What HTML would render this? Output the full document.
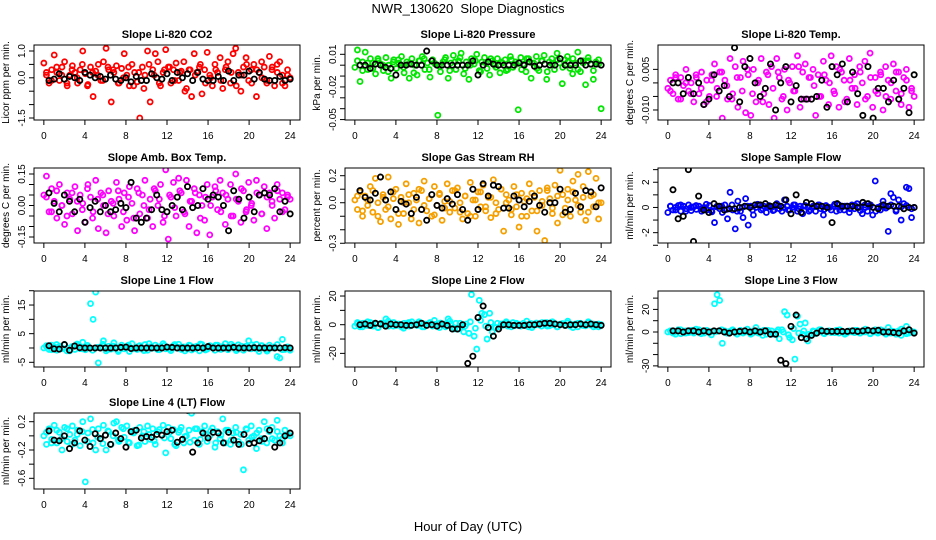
<!DOCTYPE html>
<html><head><meta charset="utf-8"><title>NWR_130620 Slope Diagnostics</title>
<style>
html,body{margin:0;padding:0;background:#fff;}
svg{display:block;font-family:"Liberation Sans",sans-serif;}
</style></head>
<body>
<svg id="chart" width="936" height="540" viewBox="0 0 936 540">
<rect x="0" y="0" width="936" height="540" fill="#fff"/>
<text x="468" y="13" font-size="13" text-anchor="middle">NWR_130620&#160; Slope Diagnostics</text>
<text x="468" y="531" font-size="13" text-anchor="middle">Hour of Day (UTC)</text>
</svg>
<script>
const hourTicks = [0,4,8,12,16,20,24];

const co2Col = [0.55,0.1,-0.2,0.3,0.85,0.2,-0.1,0.4,0.6,-0.3,0.1,0.45,0.2,-0.2,0.3,1.0,0.15,-0.25,0.4,-0.7,0.25,0.5,-0.1,0.6,1.1,0.3,-0.9,0.2,0.45,-0.2,0.35,0.9,0.1,-0.3,0.5,0.2,-0.15,-1.5,0.4,0.1,1.0,-0.9,0.3,0.9,0.6,-0.3,0.2,1.05,0.4,-0.2,0.3,0.55,-0.1,0.25,0.6,-0.4,0.3,-0.7,0.9,0.2,0.4,-0.6,0.3,0.95,0.1,-0.3,0.5,0.2,0.75,-0.4,0.3,0.6,-0.2,0.9,1.1,0.2,-0.5,0.4,0.75,-0.1,0.3,0.5,-0.7,0.2,0.6,0.4,-0.2,0.8,0.3,-0.3,0.5,0.6,0.1,-0.3,0.3,0.0];
const co2Col2 = [0.2,-0.1,0.4,0.1,-0.2,0.3,0.0,0.5,-0.3,0.2,0.1,-0.1,0.4,0.3,-0.2,0.0,0.4,-0.3,0.2,-0.4,0.5,0.1,-0.2,0.3,0.4,-0.1,0.2,-0.5,0.3,0.1,0.5,-0.2,0.0,0.3,-0.1,0.4,0.2,-0.3,0.1,0.5,-0.2,0.3,0.0,-0.1,0.4,0.2,-0.2,0.1];
const co2Blk = [-0.1,-0.05,0.15,-0.05,0.05,0.0,-0.1,0.2,0.1,0.0,0.05,-0.05,0.1,-0.05,-0.1,0.0,-0.15,0.05,-0.1,-0.1,0.15,0.0,-0.05,0.15,-0.1,0.2,0.0,0.15,-0.1,0.2,-0.05,-0.1,-0.1,0.05,-0.1,0.25,-0.1,0.1,0.1,0.25,-0.05,0.2,-0.05,-0.1,-0.1,0.05,-0.1,-0.05];

const presCol = [-0.002,0.014,-0.015,0.003,0.012,-0.004,0.006,0.002,-0.008,0.004,0.001,-0.005,0.007,0.000,-0.012,0.005,-0.003,0.002,0.008,-0.007,0.003,-0.012,0.006,0.000,-0.009,0.004,0.008,-0.004,0.002,-0.011,0.005,0.001,-0.046,-0.006,0.003,0.007,-0.012,0.002,0.009,-0.004,0.004,0.011,-0.008,0.003,-0.013,0.006,0.001,0.010,-0.005,0.003,0.007,-0.003,-0.009,0.004,0.000,0.006,-0.007,0.002,0.005,-0.004,0.008,-0.002,0.003,-0.041,0.007,0.001,-0.006,0.006,-0.012,0.002,0.008,-0.005,0.004,0.009,-0.013,0.003,0.006,-0.004,0.011,0.002,-0.017,0.005,0.008,-0.003,-0.008,0.002,0.012,-0.006,0.004,-0.018,0.007,0.001,-0.013,0.003,0.005,-0.040];
const presCol2 = [0.004,-0.005,0.002,-0.003,0.006,0.0,-0.006,0.003,0.005,-0.002,0.001,-0.007,0.004,0.006,-0.004,0.002,-0.001,0.005,-0.005,0.003,0.007,-0.003,0.0,0.004,-0.006,0.002,0.006,-0.002,0.003,-0.005,0.005,0.001,-0.004,0.006,0.002,-0.003,0.004,-0.006,0.001,0.005,-0.002,0.003,0.006,-0.004,0.002,0.004,-0.005,0.001];
const presBlk = [0.0,0.0,-0.003,0.001,0.0,-0.002,-0.003,-0.009,0.0,0.0,0.001,0.0,0.0,0.013,0.004,0.0,0.0,0.0,0.0,0.0,0.0,0.0,0.004,-0.009,0.0,0.003,0.001,0.0,0.0,0.0,0.0,0.002,0.0,0.003,-0.001,0.0,0.001,0.0,0.0,0.006,0.0,0.0,0.0,0.004,0.0,0.001,0.001,0.0];

const tempCol = [-0.002,0.001,-0.004,0.003,-0.006,0.002,-0.001,0.005,-0.003,0.000,-0.007,0.002,-0.004,0.004,-0.008,0.001,-0.005,0.003,0.007,-0.002,0.004,-0.013,0.001,-0.006,0.009,-0.004,0.006,-0.009,0.002,0.008,-0.011,0.003,-0.012,0.005,-0.007,0.001,0.009,-0.004,0.004,-0.008,0.006,-0.013,0.009,0.002,-0.006,0.005,-0.010,0.000,0.006,-0.003,0.010,-0.009,0.004,0.007,-0.006,0.002,0.005,-0.012,0.003,-0.005,0.008,0.001,-0.008,0.010,-0.003,0.006,-0.009,0.004,0.001,-0.006,0.009,-0.002,0.003,-0.008,0.006,0.000,0.008,-0.005,0.011,-0.009,0.002,-0.004,0.004,-0.010,0.006,0.001,-0.006,0.007,-0.003,0.004,-0.008,0.002,0.005,-0.009,-0.003,-0.005];
const tempCol2 = [-0.003,0.002,-0.006,0.0,-0.004,0.003,-0.002,-0.007,0.001,-0.005,0.004,-0.001,-0.006,0.002,-0.003,0.005,-0.004,0.0,-0.007,0.003,-0.002,0.004,-0.005,0.001,-0.003,0.006,-0.006,0.002,-0.001,-0.005,0.003,0.0,-0.004,0.005,-0.007,0.001,-0.002,0.004,-0.006,0.002,-0.003,0.003,-0.005,0.0,0.004,-0.004,0.001,-0.002];
const tempBlk = [0.0,0.0,-0.004,0.002,-0.004,0.0,-0.008,-0.006,0.003,-0.003,-0.001,-0.005,0.013,-0.007,0.006,0.009,0.0,-0.005,-0.002,0.007,-0.010,0.0,0.006,-0.007,-0.001,-0.006,-0.006,-0.006,-0.005,0.001,-0.009,0.006,0.003,0.007,-0.007,0.004,-0.004,-0.012,0.006,-0.013,-0.002,-0.002,-0.007,0.001,-0.006,-0.002,-0.011,0.003];

const ambCol = [0.05,0.14,-0.03,0.08,0.02,-0.06,0.1,0.0,-0.09,0.06,0.03,-0.04,0.09,-0.12,0.05,0.01,-0.08,0.1,0.04,-0.03,0.12,-0.11,0.06,0.0,-0.13,0.07,0.02,-0.05,0.11,0.03,-0.1,0.06,-0.07,0.09,0.01,-0.12,0.08,-0.04,0.05,0.12,-0.06,0.03,-0.1,0.07,0.0,0.1,-0.08,0.17,-0.16,0.04,0.11,-0.05,0.13,0.06,-0.03,0.12,-0.1,0.02,0.08,-0.13,0.05,0.0,-0.07,0.1,-0.14,0.04,0.09,-0.02,0.12,0.06,-0.09,0.03,0.1,-0.05,0.15,0.02,-0.08,0.07,-0.03,0.11,0.0,-0.07,0.12,0.05,-0.04,0.09,-0.11,0.06,0.02,-0.06,0.1,0.03,0.06,-0.02,0.04,0.03];
const ambCol2 = [0.04,-0.03,0.07,0.0,-0.05,0.06,0.02,-0.02,0.08,-0.06,0.03,0.05,-0.04,0.01,0.07,-0.03,0.04,-0.06,0.06,0.0,-0.02,0.08,0.03,-0.05,0.05,-0.01,0.07,-0.04,0.02,0.06,-0.06,0.04,0.0,0.07,-0.03,0.05,-0.05,0.03,0.08,-0.02,0.01,0.06,-0.04,0.04,0.0,0.07,-0.03,0.05];
const ambBlk = [0.06,0.01,-0.03,0.05,0.02,-0.03,0.03,-0.08,-0.01,0.02,-0.03,0.0,-0.03,-0.02,0.01,-0.01,0.11,-0.06,-0.08,-0.06,-0.02,0.05,-0.02,-0.03,0.0,0.04,-0.02,0.09,-0.01,0.0,0.08,0.03,0.05,0.04,0.0,-0.12,0.07,0.03,-0.06,0.04,-0.03,0.05,0.06,0.05,0.08,-0.03,0.02,-0.04];

const rhCol = [0.02,-0.05,0.08,-0.1,0.05,-0.02,0.12,-0.07,0.18,0.0,-0.14,0.06,-0.05,0.19,-0.12,0.03,0.1,-0.16,0.04,-0.08,0.14,0.0,-0.12,0.07,0.02,-0.15,0.09,0.16,-0.06,0.03,-0.1,0.12,-0.02,0.06,-0.13,0.01,0.14,-0.07,0.09,-0.04,0.11,0.0,-0.12,0.05,-0.08,0.15,0.02,-0.1,0.08,-0.03,0.13,-0.06,0.04,-0.11,0.17,0.0,-0.05,0.1,-0.21,0.06,0.02,-0.09,0.12,-0.03,-0.18,0.07,0.01,-0.1,0.14,-0.06,0.04,-0.21,0.09,-0.02,-0.28,0.11,0.03,-0.08,0.13,-0.15,0.24,0.06,-0.04,0.1,-0.1,0.16,0.02,0.21,-0.07,0.12,-0.13,0.23,0.05,-0.03,0.18,-0.12,0.0];
const rhCol2 = [0.05,-0.06,0.02,0.09,-0.1,0.04,-0.03,0.08,-0.08,0.0,0.06,-0.05,0.1,-0.02,0.03,-0.09,0.07,-0.04,0.01,0.09,-0.07,0.05,-0.1,0.02,0.08,-0.03,0.04,-0.08,0.1,0.0,-0.05,0.06,-0.1,0.03,0.07,-0.06,0.01,0.09,-0.04,0.05,-0.09,0.02,0.08,-0.02,0.04,-0.07,0.06,0.0];
const rhBlk = [0.09,0.04,0.02,0.07,0.19,0.02,0.08,-0.05,0.01,-0.01,-0.08,0.04,-0.05,-0.13,0.06,-0.02,-0.04,0.03,-0.01,0.06,-0.05,-0.13,0.1,-0.05,0.14,0.05,0.13,0.12,-0.04,-0.04,0.05,0.02,-0.03,0.01,0.05,-0.02,-0.07,0.0,0.0,0.1,-0.07,-0.05,0.07,-0.03,0.09,0.08,-0.03,0.11];

const sampCol = [-0.4,0.1,-0.2,0.0,0.15,-0.3,0.1,-0.1,0.2,-0.25,0.05,-0.15,0.1,-0.3,0.0,-0.2,0.15,-0.35,-1.2,0.1,-0.1,-0.4,0.2,-0.9,1.2,-0.2,-1.7,0.5,-0.3,-0.8,0.7,-1.4,0.1,-0.6,0.0,0.2,-0.2,0.1,-0.4,0.15,0.0,-0.2,0.3,-0.1,-0.3,0.6,0.1,-0.2,0.0,0.2,-0.3,0.1,-0.5,0.15,0.0,-0.2,0.1,-0.3,0.2,-0.1,-0.6,0.15,0.0,-0.2,0.1,-0.3,0.2,0.0,-0.2,0.1,-0.4,0.2,-0.1,0.3,0.0,-0.5,0.2,-0.3,0.1,-0.6,2.1,0.0,-0.2,0.5,0.1,-1.9,1.1,0.8,-0.3,0.6,-1.0,0.3,1.6,1.5,-0.8,0.0];
const sampCol2 = [0.1,-0.2,0.2,-0.3,0.0,0.15,-0.1,0.25,-0.25,0.05,0.1,-0.15,0.2,-0.3,0.0,0.1,-0.2,0.25,-0.1,0.05,-0.25,0.15,0.0,-0.2,0.2,-0.1,0.1,-0.3,0.05,0.2,-0.15,0.0,0.25,-0.2,0.1,-0.1,0.15,-0.25,0.0,0.2,-0.3,0.1,-0.05,0.2,-0.2,0.05,0.15,-0.1];
const sampBlk = [1.4,-0.9,-0.7,3.0,-2.7,0.9,-0.2,-0.4,0.3,0.1,-0.2,-0.1,-0.1,0.0,0.1,0.0,0.2,0.2,0.3,0.1,0.2,0.1,0.6,-0.5,1.0,-0.4,0.4,0.3,0.1,0.1,0.0,-1.2,0.3,0.1,0.1,0.1,0.0,0.4,0.3,0.0,-0.1,0.2,0.1,0.1,0.1,-0.1,0.0,0.0];

const l1Col = [0,0.5,-0.5,1,0.3,-0.8,0.6,-0.3,1.2,0,-1,0.4,-0.5,0.8,-0.2,2,-0.6,0.3,15.5,10,19.5,-5.2,0.4,2.5,-1,0.6,-0.4,1.8,0.2,-0.7,1,-0.3,0.5,-1.2,1.5,0,-0.5,0.8,-0.2,1.2,-0.8,0.4,0,1,-0.6,0.5,1.5,-0.3,0.2,-0.9,0.8,0,1.3,-0.5,0.4,-0.2,1,-0.7,0.3,0.6,-1,1.2,0,-0.4,0.8,0.3,-0.8,1,-0.2,0.5,1.5,-0.6,0.2,0.7,-0.4,1.1,0,-0.8,0.6,2.5,-0.3,0.4,1.3,-1.2,0.8,0.2,-0.5,1,0,0.4,-3,-3.5,3,-0.5,0.2,-0.8];
const l1Col2 = [0.8,-0.6,1.2,0.0,-1.0,0.5,1.4,-0.3,0.9,-0.8,0.2,1.3,-0.5,0.7,-1.2,0.4,1.0,-0.2,0.6,-0.9,1.5,0.0,-0.6,0.9,-0.4,1.2,0.3,-1.0,0.8,-0.2,1.4,-0.7,0.5,1.0,-0.5,0.2,1.3,-0.9,0.6,0.0,1.1,-0.4,0.8,-1.1,0.3,1.2,-0.6,0.4];
const l1Blk = [0.8,-0.3,-0.4,1.2,-0.8,0.7,0.1,0,0,0,0,0,0,0,0.2,0.3,-0.2,0,0,0,0,0,0,0.3,0.2,0,0,0,0,0.1,0,0.5,0,0,0,0,0.2,0,0,0,0.1,0,0,0,0,0,0.1,0];

const l2Col = [-1,0.5,-1.5,1,0,-0.5,1.5,-1,0.3,-2,1,0,4,-1,0.5,1.5,-0.5,0,-1.5,1,0.5,-1,2,0,-0.5,1,-1.5,0.5,0,1.5,-1,0.3,-0.8,1.2,0,-1.5,4,0.5,-2,1,-3,-1,-5,0.5,-6,21,-8,-17,17,8,7,-10,8,-5,-2,1,-1.5,0.5,1,-1,0,1.5,-0.5,0.3,-1,1,0,-1.5,0.8,-0.5,1.2,0,-1,0.5,1.5,-0.8,0,1,-1.5,0.3,0.8,-0.5,1.2,-1,0,0.5,-1.5,1,0,-0.8,1.5,-0.3,0.5,-1,-1.5,0];
const l2Col2 = [1.5,-1.5,2,0,-2,1,2.5,-1,0.5,-2.5,1.5,0,2,-1.5,1,3,-2,0.5,2.5,-3,1,-1,2,-2.5,3,-1,1.5,-2,0.5,2,-1.5,1,-0.5,2.5,-2,0,1.5,-1,2,-1.5,0.5,2.5,-2,1,-0.5,2,-1.5,0.5];
const l2Blk = [0,0.5,-0.5,1,0.5,-1,0.5,0,0,-0.5,-0.5,0,1,-0.5,0,-1,0.5,-0.5,-3,-3,0,-27,-22,5,13,-2,-8,-3,0,0,-0.5,-0.5,-0.5,0,0,0.5,1,1,0.5,0,-0.5,0,0,0.5,0,0.5,0,-0.5];

const l3Col = [0,1,-1,0.5,2,-1.5,0,1,-0.5,1.5,-1,0.5,2,0,-1,1.5,-0.5,0.5,25,33,28,-10,1,-1,0.5,2,-0.5,0,1.5,-1,0.5,0,-2,1,4,-1,0.5,1.5,-2,0,1,-1.5,0.5,-6,2,18,15,-5,-7,-24,14,7,-2,8,-8,-3,1,-1.5,0,2,-1,0.5,1,-0.5,0,1.5,-1,0.5,0,-1,1,0,-0.5,1.5,-1,0.5,0,1,-1.5,0.5,2,-1,0,1,-0.5,4,-1,0.5,-2,1,-3,0,5,-1,0.5,0];
const l3Col2 = [1,-2,2,-1,0,2.5,-1.5,1,-2.5,0.5,2,-1,1.5,-2,0,2.5,-1,1,-3,1.5,-2,2,0,-2.5,3,-1,1,-2,0.5,2,-1.5,1,-0.5,2,-2,0.5,1.5,-1,2.5,-1.5,0,2,-2,1,-0.5,2.5,-1.5,0];
const l3Blk = [1,1,0,1,1,0,1,0,1,1,0,-1,0,0.5,1,0,1,0,1,-2,-2,-25,-28,5,15,-5,-6,-3,-1,1,0.5,0.5,0.5,0.5,0.5,1,0.5,1,1.5,1,1.5,0,0,-0.5,-1,1,2,-1];

const l4Col = [0.0,-0.12,0.1,-0.05,0.15,-0.1,0.05,-0.2,0.12,-0.08,0.02,0.14,-0.06,0.08,-0.14,0.2,-0.65,0.04,0.24,-0.1,-0.2,0.1,-0.04,0.15,-0.2,0.06,-0.12,0.18,0.2,-0.08,0.12,-0.02,0.14,-0.1,0.05,0.08,-0.14,0.12,0.0,-0.08,0.14,-0.05,0.1,-0.12,0.06,-0.82,0.15,-0.24,0.12,-0.04,0.09,-0.14,0.05,0.12,-0.1,0.0,0.08,0.32,-0.06,0.1,-0.12,0.06,0.14,-0.08,0.0,0.11,-0.16,0.06,-0.04,0.24,-0.1,0.08,-0.12,0.04,0.12,-0.08,0.02,-0.48,0.1,-0.06,0.14,0.0,-0.18,0.08,-0.04,0.2,-0.1,0.06,0.12,-0.06,0.22,0.0,-0.04,0.08,0.02,0.0];
const l4Col2 = [0.05,-0.1,0.08,-0.04,0.1,-0.12,0.02,0.06,-0.08,0.09,-0.02,-0.11,0.07,0.0,-0.06,0.1,-0.09,0.04,-0.13,0.06,0.02,-0.07,0.09,-0.03,0.05,-0.12,0.08,-0.01,-0.09,0.1,-0.05,0.03,0.07,-0.1,0.01,0.08,-0.06,0.05,-0.12,0.09,-0.02,0.04,-0.08,0.1,-0.04,0.06,-0.1,0.02];
const l4Blk = [0.07,-0.06,-0.07,0.0,-0.18,-0.1,0.07,-0.06,-0.15,0.03,-0.04,0.01,-0.12,0.04,-0.04,-0.16,0.06,0.08,-0.03,-0.01,-0.02,0.02,0.01,0.06,0.08,-0.09,-0.05,0.36,-0.23,-0.1,0.04,-0.03,0.05,0.04,-0.1,0.05,-0.06,-0.12,0.02,-0.11,-0.1,-0.07,-0.04,0.08,-0.16,-0.1,0.0,0.04];

const co2Ticks=[1,0.5,0,-0.5,-1,-1.5], co2Labels=["1.0","","0.0","","","-1.5"];
const presTicks=[0.01,0,-0.01,-0.02,-0.03,-0.04,-0.05], presLabels=["0.01","","","-0.02","","","-0.05"];
const tempTicks=[0.005,0,-0.005,-0.010], tempLabels=["0.005","","","-0.010"];
const ambTicks=[0.15,0.1,0.05,0,-0.05,-0.1,-0.15], ambLabels=["0.15","","","0.00","","","-0.15"];
const rhTicks=[0.2,0.1,0,-0.1,-0.2,-0.3], rhLabels=["0.2","","0.0","","","-0.3"];
const sampTicks=[3,2,1,0,-1,-2,-3], sampLabels=["","2","","0","","-2",""];
const l1Ticks=[20,15,10,5,0,-5], l1Labels=["","15","","5","","-5"];
const l2Ticks=[20,10,0,-10,-20], l2Labels=["20","","0","","-20"];
const l3Ticks=[30,20,10,0,-10,-20,-30], l3Labels=["","20","","0","","","-30"];
const l4Ticks=[0.2,0,-0.2,-0.4,-0.6], l4Labels=["0.2","","-0.2","","-0.6"];

const panels = [
 {id:"co2",title:"Slope Li-820 CO2",ylab:"Licor ppm per min.",color:"#ff0000",left:34,top:45,h:75,ymin:-1.575,ymax:1.224,col:co2Col,col2:co2Col2,blk:co2Blk,ticks:co2Ticks,labels:co2Labels},
 {id:"pressure",title:"Slope Li-820 Pressure",ylab:"kPa per min.",color:"#00e600",left:345,top:45,h:75,ymin:-0.0504,ymax:0.01856,col:presCol,col2:presCol2,blk:presBlk,ticks:presTicks,labels:presLabels},
 {id:"temp",title:"Slope Li-820 Temp.",ylab:"degrees C per min.",color:"#ff00ff",left:658,top:45,h:75,ymin:-0.0137,ymax:0.0140,col:tempCol,col2:tempCol2,blk:tempBlk,ticks:tempTicks,labels:tempLabels},
 {id:"amb-box-temp",title:"Slope Amb. Box Temp.",ylab:"degrees C per min.",color:"#ff00ff",left:34,top:168,h:75,ymin:-0.1786,ymax:0.1786,col:ambCol,col2:ambCol2,blk:ambBlk,ticks:ambTicks,labels:ambLabels},
 {id:"gas-rh",title:"Slope Gas Stream RH",ylab:"percent per min.",color:"#f5a000",left:345,top:168,h:75,ymin:-0.298,ymax:0.257,col:rhCol,col2:rhCol2,blk:rhBlk,ticks:rhTicks,labels:rhLabels},
 {id:"sample-flow",title:"Slope Sample Flow",ylab:"ml/min per min.",color:"#0000ff",left:658,top:168,h:75,ymin:-2.82,ymax:3.13,col:sampCol,col2:sampCol2,blk:sampBlk,ticks:sampTicks,labels:sampLabels},
 {id:"line1-flow",title:"Slope Line 1 Flow",ylab:"ml/min per min.",color:"#00ffff",left:34,top:291,h:76,ymin:-6.64,ymax:19.9,col:l1Col,col2:l1Col2,blk:l1Blk,ticks:l1Ticks,labels:l1Labels},
 {id:"line2-flow",title:"Slope Line 2 Flow",ylab:"ml/min per min.",color:"#00ffff",left:345,top:291,h:76,ymin:-29.5,ymax:23.5,col:l2Col,col2:l2Col2,blk:l2Blk,ticks:l2Ticks,labels:l2Labels},
 {id:"line3-flow",title:"Slope Line 3 Flow",ylab:"ml/min per min.",color:"#00ffff",left:658,top:291,h:76,ymin:-31,ymax:36.3,col:l3Col,col2:l3Col2,blk:l3Blk,ticks:l3Ticks,labels:l3Labels},
 {id:"line4-flow",title:"Slope Line 4 (LT) Flow",ylab:"ml/min per min.",color:"#00ffff",left:34,top:413,h:76,ymin:-0.751,ymax:0.323,col:l4Col,col2:l4Col2,blk:l4Blk,ticks:l4Ticks,labels:l4Labels}
];

const NS="http://www.w3.org/2000/svg";
const svg=document.getElementById("chart");
const W=266, XMIN=-0.96, XMAX=24.96;
function mk(tag,attrs,parent){const e=document.createElementNS(NS,tag);for(const k in attrs)e.setAttribute(k,attrs[k]);parent.appendChild(e);return e;}

panels.forEach(p=>{
  const g=mk("g",{},svg);
  
  
  const xs=h=>p.left+(h-XMIN)/(XMAX-XMIN)*W;
  const ys=v=>p.top+p.h-(v-p.ymin)/(p.ymax-p.ymin)*p.h;
  const bottom=p.top+p.h;
  const t=mk("text",{x:p.left+W/2,y:p.top-7,"font-size":"11","font-weight":"bold","text-anchor":"middle"},g);
  t.textContent=p.title;
  
  
  const yt=mk("text",{x:0,y:0,"font-size":"10","text-anchor":"middle",transform:`translate(${p.left-25},${p.top+p.h/2}) rotate(-90)`},g);
  yt.textContent=p.ylab;
  
  
  const cp=mk("clipPath",{id:"clip-"+p.id},g);
  mk("rect",{x:p.left,y:p.top,width:W,height:p.h},cp);
  const pts=mk("g",{"clip-path":`url(#clip-${p.id})`},g);
  
  
  const n=p.col.length;
  p.col.forEach((v,i)=>{
    const c=mk("circle",{cx:xs(i*24/(n-1)),cy:ys(v),r:2.5,fill:"none",stroke:p.color,"stroke-width":1.8},pts);
    
    
  });
  p.col2.forEach((v,i)=>{
    const c=mk("circle",{cx:xs(0.25+i*0.5),cy:ys(v),r:2.5,fill:"none",stroke:p.color,"stroke-width":1.8},pts);
    
    
  });
  p.blk.forEach((v,i)=>{
    const c=mk("circle",{cx:xs(0.5+i*0.5),cy:ys(v),r:2.6,fill:"none",stroke:"#000","stroke-width":1.8},pts);
    
    
  });
  const b=mk("rect",{x:p.left,y:p.top,width:W,height:p.h,fill:"none",stroke:"#000","stroke-width":1},g);
  
  
  hourTicks.forEach(h=>{
    mk("line",{x1:xs(h),x2:xs(h),y1:bottom,y2:bottom+5,stroke:"#000"},g);
    const l=mk("text",{x:xs(h),y:bottom+19,"font-size":"10","text-anchor":"middle"},g);
    l.textContent=h;
    
    
  });
  p.ticks.forEach((v,i)=>{
    mk("line",{x1:p.left-5,x2:p.left,y1:ys(v),y2:ys(v),stroke:"#000"},g);
    if(p.labels[i]){
      const l=mk("text",{x:0,y:0,"font-size":"10","text-anchor":"middle",transform:`translate(${p.left-9},${ys(v)}) rotate(-90)`},g);
      l.textContent=p.labels[i];
      
      
    }
  });
});
</script>
</body></html>
